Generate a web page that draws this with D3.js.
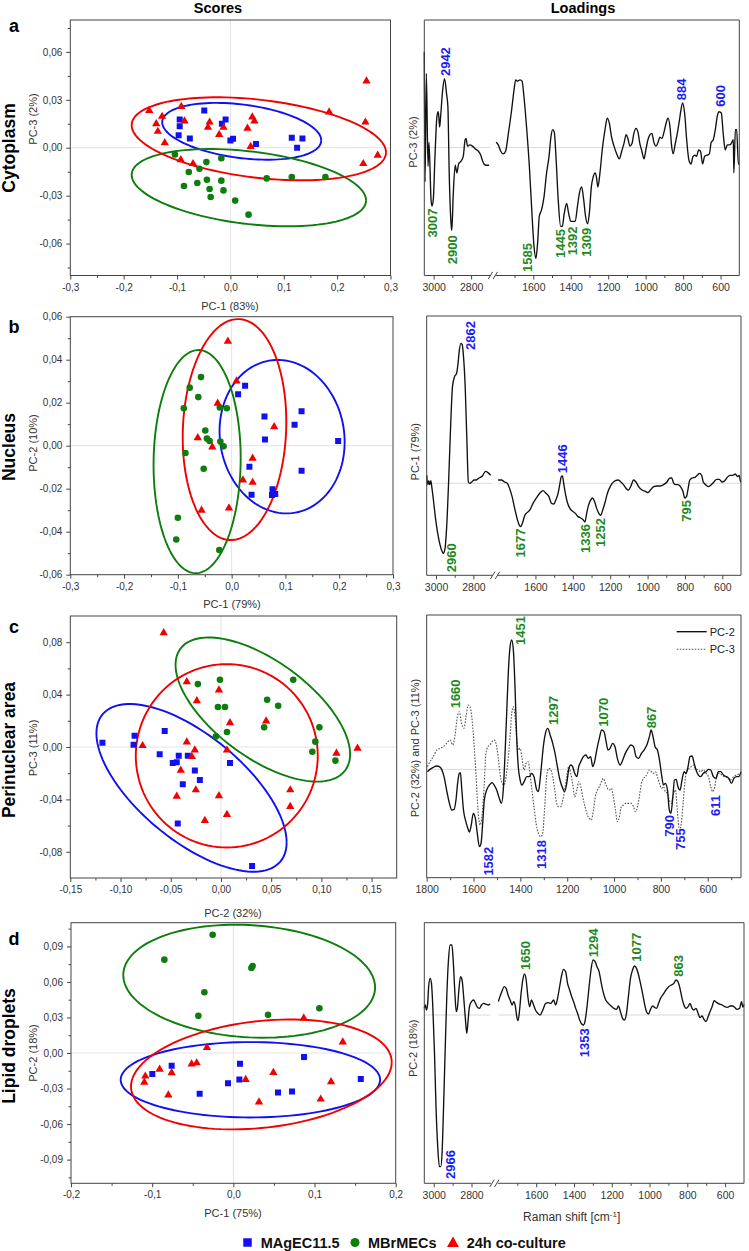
<!DOCTYPE html>
<html><head><meta charset="utf-8">
<script src="https://cdn.jsdelivr.net/npm/d3@7"></script>
<style>body{margin:0;background:#fff} text{font-family:"Liberation Sans",Arial,Helvetica,sans-serif}</style>
</head><body>
<svg id="chart" width="749" height="1251"></svg>
<script>
// ---------------- DATA ----------------
const groups = ["MAgEC11.5", "MBrMECs", "24h co-culture"];
const rowNames = ["Cytoplasm", "Nucleus", "Perinuclear area", "Lipid droplets"];

// Scores (x, y)
const scoresA_MAgEC = [[-0.049,0.0233],[-0.095,0.0177],[-0.095,0.0135],[-0.097,0.0079],[-0.076,0.0058],[-0.016,0.015],[-0.009,0.0177],[0.0,0.0046],[0.005,0.0056],[0.048,0.0023],[0.115,0.0063],[0.135,0.0058],[0.125,0.0]];
const scoresA_MBr = [[-0.104,-0.0042],[-0.087,-0.024],[-0.078,-0.0152],[-0.058,-0.0131],[-0.062,-0.0221],[-0.045,-0.009],[-0.044,-0.02],[-0.039,-0.0258],[-0.037,-0.0308],[-0.017,-0.0065],[-0.017,-0.0206],[-0.013,-0.0267],[0.009,-0.0331],[0.034,-0.0419],[0.068,-0.0192],[0.115,-0.0183],[0.178,-0.0183]];
const scoresA_Co = [[-0.152,0.0233],[-0.128,0.0196],[-0.139,0.015],[-0.136,0.0102],[-0.123,0.0031],[-0.092,0.0258],[-0.086,0.0167],[-0.093,-0.0075],[-0.070,-0.01],[-0.039,0.016],[-0.042,0.0127],[-0.013,0.0127],[-0.021,0.0083],[0.041,0.0192],[0.045,0.0167],[0.032,0.0121],[0.038,0.0008],[0.185,0.0223],[0.255,0.0417],[0.253,0.016],[0.249,-0.01],[0.276,-0.0048]];

const scoresB_MAgEC = [[0.025,0.0279],[0.012,0.0239],[0.061,0.0136],[0.062,0.0029],[0.033,-0.0098],[0.037,-0.0228],[0.076,-0.0203],[0.081,-0.0225],[0.075,-0.0229],[0.117,0.0098],[0.130,0.016],[0.130,-0.0116],[0.198,0.0022]];
const scoresB_MBr = [[-0.057,0.0319],[-0.078,0.027],[-0.062,0.0226],[-0.089,0.0174],[-0.022,0.0178],[-0.009,0.0174],[-0.049,0.0071],[-0.046,0.0033],[-0.041,0.0022],[-0.021,0.0019],[-0.015,-0.0003],[-0.086,-0.0034],[-0.052,-0.0107],[-0.100,-0.0335],[-0.103,-0.0436],[-0.023,-0.0485]];
const scoresB_Co = [[-0.007,0.0485],[0.009,0.0301],[-0.026,0.0197],[-0.063,0.0037],[-0.036,-0.0006],[0.079,0.0088],[0.039,-0.0059],[0.021,-0.016],[0.039,-0.0171],[-0.056,-0.0301],[-0.005,-0.029]];

const scoresC_MAgEC = [[-0.118,0.0033],[-0.086,0.0086],[-0.087,0.0018],[-0.056,0.0122],[-0.061,-0.0056],[-0.048,-0.0122],[-0.044,-0.0117],[-0.042,-0.0066],[-0.033,-0.0066],[-0.038,-0.0284],[-0.026,-0.018],[-0.021,-0.0251],[0.009,-0.0122],[-0.043,-0.0584],[0.031,-0.0909]];
const scoresC_MBr = [[-0.023,0.048],[-0.001,0.0513],[-0.003,0.0305],[0.004,0.0305],[0.072,0.0513],[0.046,0.0361],[0.057,0.0315],[0.043,0.015],[0.098,0.015],[0.006,0.0114],[-0.005,0.0081],[0.094,0.0041],[0.091,-0.0036],[0.114,-0.0104]];
const scoresC_Co = [[-0.057,0.0871],[-0.034,0.0498],[-0.002,0.0434],[-0.024,0.0353],[0.009,0.0185],[0.045,0.0198],[-0.078,0.001],[-0.034,0.0038],[-0.026,-0.0023],[-0.029,-0.0074],[0.006,-0.0023],[-0.040,-0.0178],[-0.044,-0.0376],[-0.025,-0.0328],[-0.002,-0.0373],[-0.016,-0.0561],[0.006,-0.0516],[0.069,-0.0328],[0.069,-0.0455],[0.115,-0.0048],[0.136,-0.001]];

const scoresD_MAgEC = [[-0.0998,-0.0177],[-0.076,-0.0107],[-0.0415,-0.0345],[-0.0066,-0.0255],[0.0082,-0.009],[0.0074,-0.0224],[0.055,-0.0334],[0.0723,-0.0325],[0.0871,-0.0034],[0.157,-0.0219]];
const scoresD_MBr = [[-0.0255,0.0998],[-0.085,0.0788],[0.0222,0.0718],[0.0238,0.0735],[-0.0357,0.0513],[-0.0431,0.0314],[0.0427,0.0322],[0.106,0.0378]];
const scoresD_Co = [[-0.1085,-0.0196],[-0.1097,-0.0247],[-0.0908,-0.0137],[-0.076,-0.0168],[-0.0801,-0.0356],[-0.0514,-0.0093],[-0.0452,-0.0084],[-0.0325,0.0045],[0.0152,-0.0224],[0.0316,-0.0415],[0.0493,-0.0165],[0.0867,0.0294],[0.1076,-0.039],[0.1204,-0.0244],[0.1348,0.0093]];

// Confidence ellipses: centre, half-extent in x and y, correlation
const ellipsesA = [{g:0,cx:0.0212,cy:0.0103,sx:0.149,sy:0.0178,r:-0.32},{g:1,cx:0.0346,cy:-0.025,sx:0.2196,sy:0.0242,r:-0.33},{g:2,cx:0.0533,cy:0.0056,sx:0.2383,sy:0.026,r:-0.328}];
const ellipsesB = [{g:0,cx:0.0938,cy:0.0042,sx:0.1163,sy:0.0357,r:-0.07},{g:1,cx:-0.0642,cy:-0.0074,sx:0.081,sy:0.0519,r:0.03},{g:2,cx:0.0053,cy:0.0075,sx:0.0963,sy:0.0514,r:0.07}];
const ellipsesC = [{g:0,cx:-0.0293,cy:-0.0312,sx:0.0947,sy:0.064,r:-0.65},{g:1,cx:0.0417,cy:0.0286,sx:0.0869,sy:0.055,r:-0.62},{g:2,cx:0.0058,cy:-0.0067,sx:0.0906,sy:0.07,r:0}];
const ellipsesD = [{g:0,cx:0.021,cy:-0.0226,sx:0.1598,sy:0.0318,r:0},{g:1,cx:0.0195,cy:0.0606,sx:0.1551,sy:0.0477,r:-0.11},{g:2,cx:0.0345,cy:-0.0181,sx:0.1606,sy:0.0464,r:0.22}];

// Score tick values
const ticksX3 = [-0.3,-0.2,-0.1,0,0.1,0.2,0.3], ticksX3m = [-0.25,-0.15,-0.05,0.05,0.15,0.25];
const ticksYA = [-0.06,-0.03,0,0.03,0.06], ticksYAm = [-0.075,-0.045,-0.015,0.015,0.045,0.075];
const ticksYB = [-0.06,-0.04,-0.02,0,0.02,0.04,0.06], ticksYBm = [-0.05,-0.03,-0.01,0.01,0.03,0.05];
const ticksXC = [-0.15,-0.1,-0.05,0,0.05,0.1,0.15], ticksXCm = [-0.125,-0.075,-0.025,0.025,0.075,0.125];
const ticksYC = [-0.08,-0.04,0,0.04,0.08], ticksYCm = [-0.06,-0.02,0.02,0.06];
const ticksXD = [-0.2,-0.1,0,0.1,0.2], ticksXDm = [-0.15,-0.05,0.05,0.15];
const ticksYD = [-0.09,-0.06,-0.03,0,0.03,0.06,0.09], ticksYDm = [-0.105,-0.075,-0.045,-0.015,0.015,0.045,0.075,0.105];

// Loadings (Raman shift, relative loading)
const loadA = [[3050,75],[3046,-27],[3039,58],[3030,-15],[3025,4],[3014,-41],[3009,-46],[3002,-41],[2993,-7],[2982,25],[2975,28],[2968,16],[2963,24],[2952,45],[2942,54],[2931,42],[2924,32],[2917,-20],[2906,-62],[2903,-65],[2896,-39],[2885,-14],[2876,-20],[2867,-13],[2855,-11],[2842,-7],[2832,6],[2827,7],[2819,1],[2807,2],[2793,1],[2779,-1],[2761,-3],[2749,-6],[2740,-10],[2731,-13],[2719,-14],[2704,-14],
[1799,4],[1787,2],[1774,-3],[1760,-5],[1748,-3],[1733,11],[1716,29],[1703,45],[1694,53],[1684,52],[1671,53],[1660,52],[1650,40],[1636,16],[1621,-15],[1609,-47],[1596,-78],[1586,-87],[1577,-75],[1568,-54],[1556,-49],[1543,-39],[1529,-20],[1516,-7],[1506,8],[1497,14],[1488,12],[1479,-7],[1467,-41],[1454,-62],[1445,-62],[1435,-52],[1422,-44],[1411,-52],[1399,-58],[1386,-58],[1376,-58],[1365,-47],[1354,-36],[1342,-31],[1331,-41],[1321,-54],[1310,-60],[1301,-52],[1290,-31],[1280,-23],[1269,-20],[1262,-24],[1255,-31],[1244,-20],[1232,-2],[1217,14],[1205,23],[1194,19],[1182,8],[1169,1],[1155,-5],[1141,-9],[1128,-3],[1116,3],[1104,10],[1095,7],[1084,1],[1073,3],[1063,11],[1052,15],[1041,12],[1031,3],[1020,-3],[1009,-9],[999,-2],[988,6],[977,10],[967,11],[956,4],[945,1],[934,4],[924,8],[913,7],[902,12],[891,19],[881,23],[870,16],[862,2],[853,-5],[842,3],[831,11],[820,21],[812,29],[803,35],[792,27],[781,6],[769,-10],[758,-13],[747,-7],[737,-6],[728,-7],[717,-2],[707,-3],[696,-13],[685,-7],[671,-6],[660,-5],[650,4],[639,6],[628,14],[617,25],[607,28],[596,27],[586,11],[575,-2],[564,2],[554,2],[543,3],[532,6],[529,-20],[521,14],[514,14],[505,-13],[500,-13]];

const loadB = [[3050,6],[3044,-1],[3039,2],[3034,-1],[3028,2],[3023,-2.5],[3014,-12.5],[3004,-25],[2991,-37.5],[2979,-46],[2968,-51],[2961,-52.5],[2952,-49],[2943,-32.5],[2933,0],[2922,42.5],[2912,72.5],[2901,80],[2890,82.5],[2883,89],[2876,99],[2867,105],[2860,104],[2853,95],[2844,72.5],[2835,32.5],[2827,1],[2819,0],[2809,1],[2796,2.5],[2784,2.5],[2770,4],[2752,5.5],[2735,9],[2722,8],[2708,6],
[1800,2.5],[1783,2.5],[1765,1],[1751,0],[1738,-4],[1725,-10],[1711,-19],[1699,-26],[1688,-31],[1679,-32.5],[1670,-30],[1657,-24],[1645,-22],[1630,-20],[1613,-15],[1595,-11],[1577,-7.5],[1559,-5.5],[1544,-7.5],[1528,-10],[1514,-15],[1501,-15.5],[1491,-12.5],[1478,-7],[1469,0],[1462,5],[1456,5.5],[1449,0],[1442,-6],[1430,-14],[1415,-19],[1401,-21],[1387,-22.5],[1372,-25],[1358,-26],[1344,-27.5],[1335,-29],[1326,-22.5],[1315,-16],[1304,-12.5],[1294,-11],[1283,-14],[1272,-19],[1261,-22.5],[1251,-24],[1240,-20],[1227,-14],[1215,-7.5],[1200,-2.5],[1186,0.5],[1172,2],[1157,2.5],[1143,1],[1129,-1],[1114,-4],[1102,-5],[1089,-2],[1075,2.5],[1062,1],[1048,-2.5],[1030,-5],[1012,-6],[998,-7],[985,-5],[967,-2.5],[949,-2],[932,-2],[914,-1],[896,1],[881,4],[871,4],[860,0],[849,-1],[838,-1],[824,-2.5],[811,-6],[801,-11],[792,-10],[783,-4],[774,2.5],[761,4],[747,4.5],[734,6],[722,7.5],[711,6],[702,1],[690,-1],[675,-2.5],[659,-1],[645,1],[630,3],[616,3],[602,1],[587,2],[573,4.5],[559,6],[544,6],[530,7],[519,5],[510,6],[501,1],[500,1]];

const loadC_PC2 = [[1797,-1.75],[1786,0],[1772,1.5],[1757,2.5],[1746,2],[1736,0],[1726,-5.5],[1715,-15.5],[1703,-25.5],[1693,-30.5],[1683,-30],[1675,-23],[1668,-10.5],[1661,-3],[1656,-2.5],[1651,-13],[1643,-30.5],[1633,-39],[1625,-44],[1618,-47],[1611,-43],[1601,-33],[1592,-37],[1584,-48],[1575,-58],[1568,-55.5],[1561,-40.5],[1554,-23],[1544,-15.5],[1532,-11.75],[1521,-10],[1512,-11.75],[1501,-15.5],[1490,-21.75],[1481,-25.5],[1473,-15.5],[1466,9.5],[1458,44.5],[1451,74.5],[1444,92],[1437,97],[1430,89.5],[1423,62],[1416,24.5],[1409,2],[1401,-8],[1394,-11.75],[1384,-9.25],[1373,-5.5],[1362,-5.5],[1352,-3],[1342,-5.5],[1330,-15.5],[1323,-16.75],[1316,-8],[1309,4.5],[1302,17],[1293,27],[1283,30.75],[1273,25.75],[1262,19.5],[1252,12],[1242,2],[1231,-8],[1219,-14.25],[1211,-16.75],[1202,-10.5],[1194,-0.5],[1185,3.25],[1177,2],[1168,-3],[1159,-5.5],[1151,2],[1142,5.75],[1131,9.5],[1120,10.75],[1110,8.25],[1100,9.5],[1091,2],[1083,5.75],[1074,14.5],[1063,23.25],[1053,29.5],[1043,28.25],[1034,20.75],[1026,14.5],[1017,15.75],[1006,19.5],[996,17],[986,8.25],[974,3.25],[963,7],[952,12],[940,15.75],[929,18.25],[917,17],[906,9.5],[895,8.25],[883,12],[872,14.5],[860,18.25],[849,24.5],[842,29.5],[835,25.75],[825,17],[815,14.5],[806,7],[798,-3],[789,-11.75],[781,-10.5],[772,-15.5],[764,-30.5],[757,-33],[749,-20.5],[742,-8],[735,-7.5],[727,-13],[718,-15.5],[710,-8],[701,-1.75],[693,-3],[684,2],[676,9.5],[667,10],[658,4.5],[650,-0.5],[640,-4.25],[630,-5.5],[619,-3],[607,-1.75],[597,0],[587,-0.5],[576,-5.5],[565,-6.75],[555,-1.75],[545,-1.75],[533,-4.25],[522,-5.5],[510,-6.75],[499,-10.5],[488,-6.75],[476,-5.5],[468,-5.5],[458,-1.75]];

const loadC_PC3 = [[1797,2],[1786,5.75],[1772,9.5],[1757,14.5],[1743,15.75],[1729,17],[1715,19.5],[1700,22],[1689,18.25],[1679,25.75],[1669,39.5],[1661,43.25],[1651,34.5],[1641,30.75],[1632,39.5],[1623,48.25],[1615,47],[1606,37],[1598,19.5],[1589,-5.5],[1581,-30.5],[1572,-41.75],[1564,-35.5],[1555,-13],[1547,12],[1538,17],[1530,18.25],[1521,20.75],[1512,22],[1504,19.5],[1495,9.5],[1487,-3],[1478,-10.5],[1470,-11.75],[1461,-5.5],[1453,7],[1444,24.5],[1437,42],[1430,47],[1423,39.5],[1416,24.5],[1409,14.5],[1401,15.75],[1393,8.25],[1384,-0.5],[1376,4.5],[1367,5.75],[1359,-3],[1350,-16.75],[1342,-28],[1333,-40.5],[1323,-48],[1313,-50.5],[1305,-48],[1296,-28],[1288,-5.5],[1279,0.75],[1270,-0.5],[1262,-5.5],[1253,-15.5],[1245,-25.5],[1236,-28],[1228,-28],[1219,-23],[1211,-15.5],[1202,-5.5],[1194,2],[1185,-3],[1177,-10.5],[1168,-20.5],[1159,-15.5],[1151,-9.25],[1142,-13],[1134,-20.5],[1124,-28],[1114,-34.25],[1105,-36.75],[1097,-38],[1088,-30.5],[1080,-20.5],[1071,-15.5],[1063,-13],[1054,-9.25],[1046,-6.75],[1037,-10.5],[1028,-14.25],[1020,-15.5],[1011,-14.25],[1003,-20.5],[994,-30.5],[986,-39.25],[977,-35.5],[969,-28],[960,-26.75],[952,-25.5],[943,-25.5],[935,-25.5],[926,-25.5],[917,-28],[909,-31.75],[900,-28],[892,-20.5],[883,-10.5],[875,-6.75],[866,-5.5],[858,-3],[849,-0.5],[841,-1.75],[832,-3],[823,-1.75],[815,-5.5],[806,-10.5],[798,-14.25],[789,-13],[781,-16.75],[772,-18],[764,-23],[755,-25.5],[747,-19.25],[738,-15.5],[730,-30.5],[721,-45.5],[713,-40.5],[704,-23],[695,-5.5],[687,-0.5],[678,0.75],[670,2],[661,3.25],[653,0.75],[641,-0.5],[630,-1.75],[619,-0.5],[607,-3],[597,-5.5],[587,-13],[579,-16.75],[570,-13],[562,-5.5],[551,-3],[539,-4.25],[528,-5.5],[517,-5.5],[505,-8],[490,-5.5],[476,-4.25],[458,-3]];

const loadD = [[3050,5],[3044,7.5],[3039,3.75],[3032,8.75],[3027,21.25],[3019,27.5],[3012,23.75],[3005,6.25],[2996,-28.75],[2988,-68.75],[2979,-98.75],[2970,-113.75],[2963,-113.75],[2956,-103.75],[2949,-73.75],[2940,-28.75],[2931,13.75],[2922,41.25],[2913,52.5],[2904,52.5],[2897,41.25],[2888,16.25],[2881,2.5],[2874,6.25],[2867,18.75],[2858,28.75],[2850,26.25],[2841,12.5],[2832,-3.75],[2825,-13.75],[2818,-3.75],[2811,6.25],[2800,10],[2789,11.25],[2779,8.75],[2768,5.75],[2758,5],[2747,7.5],[2736,8.75],[2722,8],[2710,7.5],[2701,8.25],
[1800,10],[1795,12.5],[1782,17.5],[1770,21.25],[1759,20],[1749,15],[1738,11.25],[1727,7.5],[1719,10],[1710,6.25],[1703,-1.25],[1696,-4.25],[1688,3.75],[1680,16.25],[1671,26.25],[1662,30.75],[1653,26.25],[1644,13.75],[1635,6.25],[1625,11.25],[1614,7.5],[1604,3.75],[1591,1.25],[1579,0],[1565,3.75],[1550,8.75],[1536,9.25],[1522,8.75],[1508,11.25],[1497,7.5],[1487,12.5],[1476,21.25],[1465,30],[1455,34.25],[1444,32.5],[1434,23.75],[1423,18.75],[1412,13.75],[1402,10],[1391,5],[1381,1.25],[1370,-3.75],[1359,-6.75],[1350,-7.5],[1342,-5],[1331,6.25],[1320,21.25],[1310,33.75],[1299,41.25],[1288,40],[1278,36.25],[1267,32.5],[1257,25],[1246,17.5],[1232,11.25],[1218,8.75],[1204,6.75],[1189,5],[1175,4.25],[1165,6.75],[1154,2.5],[1143,-2.5],[1133,-3.75],[1122,1.25],[1112,13.75],[1101,27.5],[1090,33.75],[1080,36.75],[1069,35],[1058,30],[1048,23.75],[1037,16.25],[1027,8.75],[1016,2.5],[1005,0.75],[995,4.25],[984,6.75],[973,5.75],[963,5],[952,8.75],[942,12.5],[927,15.75],[913,18.75],[899,21.25],[885,22.5],[871,23.75],[860,26.25],[850,25],[839,20],[828,12.5],[818,7.5],[807,5],[796,6.25],[786,8.75],[775,5],[765,3.75],[754,5],[743,1.25],[733,-2],[722,-0.75],[712,-3.25],[701,-5],[690,-1.25],[680,2.5],[669,6.25],[658,10.75],[644,9.25],[630,8.25],[616,7.5],[602,6.25],[588,5.75],[573,6.75],[559,6.75],[549,5.75],[538,4.25],[524,5],[513,10],[506,5.75],[500,8]];

// Band labels: text, position (Raman shift, loading), group colour, side
const labelsA = [{t:"2942",wn:2938,v:56,c:0,s:"up"},{t:"3007",wn:3009,v:-48,c:1,s:"down"},{t:"2900",wn:2903,v:-69,c:1,s:"down"},{t:"1585",wn:1632,v:-75,c:1,s:"down"},{t:"1445",wn:1454,v:-64,c:1,s:"down"},{t:"1392",wn:1390,v:-62,c:1,s:"down"},{t:"1309",wn:1315,v:-63,c:1,s:"down"},{t:"884",wn:808,v:37,c:0,s:"up"},{t:"600",wn:604,v:32,c:0,s:"up"}];
const labelsB = [{t:"2862",wn:2818,v:100,c:0,s:"up"},{t:"2960",wn:2920,v:-45,c:1,s:"down"},{t:"1446",wn:1458,v:7.5,c:0,s:"up"},{t:"1677",wn:1679,v:-34,c:1,s:"down"},{t:"1336",wn:1335,v:-30.5,c:1,s:"down"},{t:"1252",wn:1254,v:-26,c:1,s:"down"},{t:"795",wn:792,v:-12.5,c:1,s:"down"}];
const labelsC = [{t:"1660",wn:1679,v:45.75,c:1,s:"up"},{t:"1451",wn:1401,v:93.25,c:1,s:"up"},{t:"1297",wn:1259,v:33.25,c:1,s:"up"},{t:"1070",wn:1046,v:32,c:1,s:"up"},{t:"867",wn:839,v:30.75,c:1,s:"up"},{t:"1582",wn:1537,v:-58,c:0,s:"down"},{t:"1318",wn:1309,v:-53,c:0,s:"down"},{t:"790",wn:764,v:-34.25,c:0,s:"down"},{t:"755",wn:718,v:-44.25,c:0,s:"down"},{t:"611",wn:569,v:-19.25,c:0,s:"down"}];
const labelsD = [{t:"1650",wn:1657,v:33.75,c:1,s:"up"},{t:"1294",wn:1296,v:43.25,c:1,s:"up"},{t:"1077",wn:1069,v:40,c:1,s:"up"},{t:"863",wn:848,v:28.75,c:1,s:"up"},{t:"1353",wn:1347,v:-10,c:0,s:"down"},{t:"2966",wn:2913,v:-101.25,c:0,s:"down"}];

// Loadings tick values
const ticksHigh = [3000, 2800], ticksHighMinor = [2900];
const ticksLow = [1600,1400,1200,1000,800,600], ticksLowMinor = [1700,1500,1300,1100,900,700];
const ticksFull = [1800,1600,1400,1200,1000,800,600], ticksFullMinor = [1700,1500,1300,1100,900,700,500];

// ---------------- STYLE / LAYOUT ----------------
const markerCol = ["#1010f2", "#0d7d0d", "#f20000"];
const labelCol = ["#1c1cf5", "#1e8a1e"];
const svg = d3.select("#chart");
const loc = d3.formatLocale({decimal: ",", thousands: ".", grouping: [3], currency: ["", ""], minus: "-"});
const symbols = [d3.symbolSquare, d3.symbolCircle, d3.symbolTriangle];
const symSize = [36, 34, 30];

function styleAxis(a, fs) {
  a.select(".domain").remove();
  a.selectAll("line").attr("stroke", "#444");
  a.selectAll("text").attr("fill", "#333").style("font-size", fs + "px").style("font-family", '"Liberation Sans",Arial,sans-serif');
}

function scoresPanel(p) {
  const x = d3.scaleLinear().domain(p.xd).range([p.l, p.r]);
  const y = d3.scaleLinear().domain(p.yd).range([p.b, p.t]);
  const g = svg.append("g");
  const cid = "clip" + p.key;
  svg.append("clipPath").attr("id", cid).append("rect").attr("x", p.l).attr("y", p.t).attr("width", p.r - p.l).attr("height", p.b - p.t);
  const inner = g.append("g").attr("clip-path", `url(#${cid})`);
  inner.append("line").attr("x1", x(0)).attr("x2", x(0)).attr("y1", p.t).attr("y2", p.b).attr("stroke", "#e3e3e3").attr("stroke-width", 1);
  inner.append("line").attr("x1", p.l).attr("x2", p.r).attr("y1", y(0)).attr("y2", y(0)).attr("stroke", "#e3e3e3").attr("stroke-width", 1);
  const line = d3.line().x(d => x(d[0])).y(d => y(d[1]));
  p.ell.forEach(e => {
    const q = Math.sqrt(1 - e.r * e.r);
    const pts = d3.range(0, 121).map(i => { const t = i / 120 * 2 * Math.PI; return [e.cx + e.sx * Math.cos(t), e.cy + e.sy * (e.r * Math.cos(t) + q * Math.sin(t))]; });
    inner.append("path").attr("d", line(pts)).attr("fill", "none").attr("stroke", markerCol[e.g]).attr("stroke-width", 1.9);
  });
  p.pts.forEach((arr, gi) => {
    inner.append("g").selectAll("path").data(arr).join("path")
      .attr("d", d3.symbol().type(symbols[gi]).size(symSize[gi]))
      .attr("transform", d => `translate(${x(d[0])},${y(d[1])})`)
      .attr("fill", markerCol[gi]);
  });
  const fx = loc.format(p.fx), fy = loc.format(p.fy);
  const ax = g.append("g").attr("transform", `translate(0,${p.b})`).call(d3.axisBottom(x).tickValues(p.xt).tickFormat(fx).tickSize(4).tickSizeOuter(0).tickPadding(4));
  styleAxis(ax, 10);
  const axm = g.append("g").attr("transform", `translate(0,${p.b})`).call(d3.axisBottom(x).tickValues(p.xm).tickFormat(() => "").tickSize(2.5).tickSizeOuter(0));
  styleAxis(axm, 10);
  const ay = g.append("g").attr("transform", `translate(${p.l},0)`).call(d3.axisLeft(y).tickValues(p.yt).tickFormat(fy).tickSize(4).tickSizeOuter(0).tickPadding(4));
  styleAxis(ay, 10);
  const aym = g.append("g").attr("transform", `translate(${p.l},0)`).call(d3.axisLeft(y).tickValues(p.ym).tickFormat(() => "").tickSize(2.5).tickSizeOuter(0));
  styleAxis(aym, 10);
  g.append("rect").attr("x", p.l).attr("y", p.t).attr("width", p.r - p.l).attr("height", p.b - p.t).attr("fill", "none").attr("stroke", "#444").attr("stroke-width", 1);
  g.append("text").attr("x", p.xlx).attr("y", p.xly).attr("text-anchor", "middle").style("font-size", "11px").attr("fill", "#333").text(p.xlab);
  g.append("text").attr("transform", `translate(33,${p.ylc}) rotate(-90)`).attr("dy", "0.35em").attr("text-anchor", "middle").style("font-size", "11px").attr("fill", "#333").text(p.ylab);
  g.append("text").attr("transform", `translate(15,${p.rowc}) rotate(-90)`).attr("text-anchor", "middle").style("font-size", "17.5px").style("font-weight", "bold").attr("fill", "#000").text(p.row);
  g.append("text").attr("x", 14).attr("y", p.letterY).attr("text-anchor", "middle").style("font-size", "18px").style("font-weight", "bold").attr("fill", "#000").text(p.letter);
}

function loadPanel(p) {
  const y = d3.scaleLinear().domain(p.yd).range([p.b, p.t]);
  const g = svg.append("g");
  let segs;
  if (p.broken) {
    const k = (p.r - p.l - p.gap) / 1650;
    segs = [
      {x: d3.scaleLinear().domain([3050, 2700]).range([p.l, p.l + 350 * k]), lo: 2700, hi: 3050, mj: ticksHigh, mn: ticksHighMinor},
      {x: d3.scaleLinear().domain([1800, 500]).range([p.l + 350 * k + p.gap, p.r]), lo: 500, hi: 1800, mj: ticksLow, mn: ticksLowMinor}
    ];
  } else {
    segs = [{x: d3.scaleLinear().domain([1800, 458]).range([p.l, p.r]), lo: 458, hi: 1800, mj: ticksFull, mn: ticksFullMinor}];
  }
  const segOf = wn => segs.find(s => wn >= s.lo && wn <= s.hi) || segs[segs.length - 1];
  segs.forEach(s => {
    const x0 = s.x(s.hi), x1 = s.x(s.lo);
    g.append("line").attr("x1", x0).attr("x2", x1).attr("y1", y(0)).attr("y2", y(0)).attr("stroke", "#d9d9d9").attr("stroke-width", 1);
  });
  p.series.forEach(ser => {
    segs.forEach(s => {
      const data = ser.data.filter(d => d[0] >= s.lo && d[0] <= s.hi);
      const ln = d3.line().x(d => s.x(d[0])).y(d => y(d[1])).curve(d3.curveMonotoneX);
      g.append("path").attr("d", ln(data)).attr("fill", "none").attr("stroke", ser.dash ? "#555" : "#111")
        .attr("stroke-width", ser.dash ? 1.1 : 1.35).attr("stroke-dasharray", ser.dash ? "1.6,1.4" : null).attr("stroke-linejoin", "round");
    });
  });
  segs.forEach(s => {
    const a = g.append("g").attr("transform", `translate(0,${p.b})`).call(d3.axisBottom(s.x).tickValues(s.mj).tickFormat(d3.format("d")).tickSize(4).tickSizeOuter(0).tickPadding(4));
    styleAxis(a, 10.5);
    const am = g.append("g").attr("transform", `translate(0,${p.b})`).call(d3.axisBottom(s.x).tickValues(s.mn).tickFormat(() => "").tickSize(2.5).tickSizeOuter(0));
    styleAxis(am, 10.5);
  });
  const st = {stroke: "#444", w: 1};
  const L = (x1, y1, x2, y2) => g.append("line").attr("x1", x1).attr("y1", y1).attr("x2", x2).attr("y2", y2).attr("stroke", st.stroke).attr("stroke-width", st.w);
  L(p.l, p.t, p.r, p.t); L(p.l, p.t, p.l, p.b); L(p.r, p.t, p.r, p.b);
  if (p.broken) {
    const xa = segs[0].x(2700), xb = segs[1].x(1800), xc = (xa + xb) / 2;
    L(p.l, p.b, xa + 0.5, p.b); L(xb - 0.5, p.b, p.r, p.b);
    [-2.4, 2.4].forEach(dx => L(xc + dx - 2.2, p.b + 3.6, xc + dx + 2.2, p.b - 3.6));
  } else {
    L(p.l, p.b, p.r, p.b);
  }
  p.labels.forEach(l => {
    const s = segOf(l.wn);
    g.append("text").attr("transform", `translate(${s.x(l.wn)},${y(l.v)}) rotate(-90)`)
      .attr("text-anchor", l.s === "up" ? "start" : "end").attr("dy", "0.36em")
      .style("font-size", "13px").style("font-weight", "bold").attr("fill", labelCol[l.c]).text(l.t);
  });
  g.append("text").attr("transform", `translate(${p.ylx},${p.ylc}) rotate(-90)`).attr("dy", "0.35em").attr("text-anchor", "middle").style("font-size", "11px").attr("fill", "#333").text(p.ylab);
  if (p.legend) {
    const lx = 676.7, lg = [{t: "PC-2", y: 631.7, dash: false}, {t: "PC-3", y: 649.3, dash: true}];
    lg.forEach(d => {
      g.append("line").attr("x1", lx).attr("x2", lx + 30).attr("y1", d.y).attr("y2", d.y).attr("stroke", d.dash ? "#555" : "#111").attr("stroke-width", d.dash ? 1.1 : 1.35).attr("stroke-dasharray", d.dash ? "1.6,1.4" : null);
      g.append("text").attr("x", lx + 33).attr("y", d.y).attr("dy", "0.36em").style("font-size", "11px").attr("fill", "#222").text(d.t);
    });
  }
}

// Titles
svg.append("text").attr("x", 218).attr("y", 13).attr("text-anchor", "middle").style("font-size", "14.5px").style("font-weight", "bold").text("Scores");
svg.append("text").attr("x", 583).attr("y", 13).attr("text-anchor", "middle").style("font-size", "14.5px").style("font-weight", "bold").text("Loadings");

scoresPanel({key: "a", l: 70.3, r: 390.5, t: 20, b: 275.5, xd: [-0.3, 0.3], yd: [-0.08, 0.08], xt: ticksX3, xm: ticksX3m, yt: ticksYA, ym: ticksYAm, fx: ".1f", fy: ".2f",
  pts: [scoresA_MAgEC, scoresA_MBr, scoresA_Co], ell: ellipsesA, xlab: "PC-1 (83%)", xlx: 230, xly: 309.5, ylab: "PC-3 (2%)", ylc: 119, row: rowNames[0], rowc: 148, letter: "a", letterY: 32});
scoresPanel({key: "b", l: 70.3, r: 393, t: 316.7, b: 574.7, xd: [-0.3, 0.3], yd: [-0.06, 0.06], xt: ticksX3, xm: ticksX3m, yt: ticksYB, ym: ticksYBm, fx: ".1f", fy: ".2f",
  pts: [scoresB_MAgEC, scoresB_MBr, scoresB_Co], ell: ellipsesB, xlab: "PC-1 (79%)", xlx: 232, xly: 608, ylab: "PC-2 (10%)", ylc: 443, row: rowNames[1], rowc: 447, letter: "b", letterY: 333});
scoresPanel({key: "c", l: 70.3, r: 396.7, t: 616, b: 878, xd: [-0.15, 0.175], yd: [-0.1, 0.1], xt: ticksXC, xm: ticksXCm, yt: ticksYC, ym: ticksYCm, fx: ".2f", fy: ".2f",
  pts: [scoresC_MAgEC, scoresC_MBr, scoresC_Co], ell: ellipsesC, xlab: "PC-2 (32%)", xlx: 233, xly: 917, ylab: "PC-3 (11%)", ylc: 748, row: rowNames[2], rowc: 750, letter: "c", letterY: 633});
scoresPanel({key: "d", l: 71, r: 395.7, t: 922.7, b: 1183.3, xd: [-0.2, 0.2], yd: [-0.11, 0.11], xt: ticksXD, xm: ticksXDm, yt: ticksYD, ym: ticksYDm, fx: ".1f", fy: ".2f",
  pts: [scoresD_MAgEC, scoresD_MBr, scoresD_Co], ell: ellipsesD, xlab: "PC-1 (75%)", xlx: 233, xly: 1217, ylab: "PC-2 (18%)", ylc: 1053, row: rowNames[3], rowc: 1046, letter: "d", letterY: 945});

loadPanel({l: 424.3, r: 739.3, t: 20, b: 275.5, gap: 6, broken: true, yd: [-100.5, 100], series: [{data: loadA}], labels: labelsA, ylab: "PC-3 (2%)", ylx: 412.7, ylc: 142});
loadPanel({l: 426.7, r: 741, t: 316, b: 575.3, gap: 6, broken: true, yd: [-69, 125.5], series: [{data: loadB}], labels: labelsB, ylab: "PC-1 (79%)", ylx: 415, ylc: 451.7});
loadPanel({l: 426.7, r: 741, t: 615, b: 877.7, broken: false, yd: [-81.25, 115.75], series: [{data: loadC_PC3, dash: true}, {data: loadC_PC2}], labels: labelsC, ylab: "PC-2 (32%) and PC-3 (11%)", ylx: 415, ylc: 748, legend: true});
loadPanel({l: 424.3, r: 744, t: 922.7, b: 1183.3, gap: 8, broken: true, yd: [-126.25, 69.25], series: [{data: loadD}], labels: labelsD, ylab: "PC-2 (18%)", ylx: 412.7, ylc: 1048.3});

// Raman shift label
const rs = svg.append("text").attr("x", 571.7).attr("y", 1221).attr("text-anchor", "middle").style("font-size", "12px").attr("fill", "#333");
rs.append("tspan").text("Raman shift [cm");
rs.append("tspan").attr("dy", -4).style("font-size", "8px").text("-1");
rs.append("tspan").attr("dy", 4).text("]");

// Legend
const legX = [247.5, 355, 453], legTx = [260.7, 368, 466.7], legSize = [72, 64, 62];
groups.forEach((name, i) => {
  svg.append("path").attr("d", d3.symbol().type(symbols[i]).size(legSize[i])).attr("transform", `translate(${legX[i]},${i === 2 ? 1243.5 : 1242.5})`).attr("fill", markerCol[i]);
  svg.append("text").attr("x", legTx[i]).attr("y", 1247.5).style("font-size", "14.5px").style("font-weight", "bold").attr("fill", "#111").text(name);
});
</script>
</body></html>
